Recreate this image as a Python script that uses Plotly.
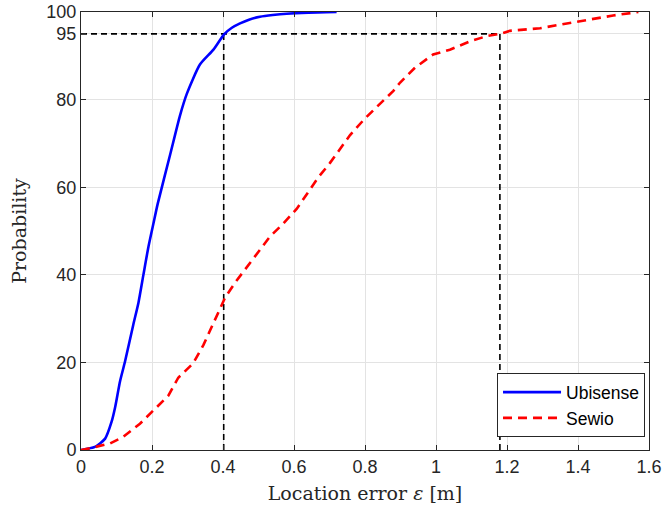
import plotly.graph_objects as go

# Ubisense CDF (location error in m, probability in %)
ubi_x = [0.0, 0.039, 0.068, 0.086, 0.096, 0.110, 0.124, 0.147, 0.162, 0.176, 0.190, 0.204, 0.216,
         0.251, 0.279, 0.298, 0.335, 0.373, 0.403, 0.425, 0.448, 0.475, 0.504, 0.540, 0.579, 0.64, 0.72]
ubi_y = [0.0, 0.7, 2.6, 6.4, 9.7, 15.7, 20.2, 28.5, 33.7, 40.1, 46.4, 51.7, 56.2,
         67.4, 76.4, 81.3, 88.0, 91.4, 94.9, 96.4, 97.4, 98.3, 98.9, 99.3, 99.6, 99.85, 100.0]

# Sewio CDF
sew_x = [0.0, 0.025, 0.082, 0.119, 0.166, 0.204, 0.246, 0.274, 0.316, 0.345, 0.382, 0.406, 0.434,
         0.476, 0.532, 0.570, 0.608, 0.636, 0.668, 0.701, 0.730, 0.758, 0.800, 0.833, 0.880,
         0.899, 0.941, 0.992, 1.039, 1.096, 1.143, 1.180, 1.208, 1.293, 1.377, 1.434, 1.499, 1.570]
sew_y = [0.0, 0.4, 1.5, 3.0, 6.0, 9.0, 12.4, 16.5, 19.8, 24.0, 30.7, 34.8, 38.2,
         42.7, 48.7, 51.7, 55.1, 58.4, 62.2, 65.5, 68.9, 71.9, 75.7, 78.3, 82.0,
         83.9, 87.3, 90.3, 91.4, 93.3, 94.5, 95.0, 95.7, 96.3, 97.4, 98.3, 99.2, 100.0]

# 95th percentile markers
p95_level = 95
p95_ubi = 0.402
p95_sew = 1.18

x_ticks = [0, 0.2, 0.4, 0.6, 0.8, 1.0, 1.2, 1.4, 1.6]
x_labels = ["0", "0.2", "0.4", "0.6", "0.8", "1", "1.2", "1.4", "1.6"]
y_ticks = [0, 20, 40, 60, 80, 95, 100]

fig = go.Figure()

guide = dict(color="black", width=1.6, dash="6px,4px")
fig.add_trace(go.Scatter(x=[0, p95_sew], y=[p95_level, p95_level], mode="lines",
                         line=guide, showlegend=False, hoverinfo="skip"))
fig.add_trace(go.Scatter(x=[p95_ubi, p95_ubi], y=[0, p95_level], mode="lines",
                         line=guide, showlegend=False, hoverinfo="skip"))
fig.add_trace(go.Scatter(x=[p95_sew, p95_sew], y=[0, p95_level], mode="lines",
                         line=guide, showlegend=False, hoverinfo="skip"))

fig.add_trace(go.Scatter(x=ubi_x, y=ubi_y, mode="lines", name="Ubisense",
                         line=dict(color="#0000ff", width=2.6, shape="spline", smoothing=0.6)))
fig.add_trace(go.Scatter(x=sew_x, y=sew_y, mode="lines", name="Sewio",
                         line=dict(color="#ff0000", width=2.6, dash="9px,6px")))

axis_common = dict(showline=True, linecolor="#262626", linewidth=1, mirror="ticks",
                   ticks="inside", ticklen=5, tickcolor="#262626",
                   showgrid=True, gridcolor="#e3e3e3", gridwidth=1, zeroline=False,
                   ticklabeloverflow="allow", automargin=False,
                   tickfont=dict(family="Liberation Sans, Arial", size=18, color="#262626"))

title_font = dict(family="DejaVu Serif, serif", size=19, color="#262626")

fig.update_xaxes(range=[0, 1.6], tickvals=x_ticks, ticktext=x_labels,
                 title=dict(text="Location error <i>ε</i> [m]", standoff=11, font=title_font),
                 **axis_common)
fig.update_yaxes(range=[0, 100], tickvals=y_ticks,
                 title=dict(text="Probability", standoff=14, font=title_font),
                 **axis_common)

fig.update_layout(
    width=665, height=513,
    margin=dict(l=81, r=16, t=12, b=63),
    plot_bgcolor="white", paper_bgcolor="white",
    legend=dict(x=0.993, y=0.029, xanchor="right", yanchor="bottom",
                bgcolor="white", bordercolor="#262626", borderwidth=1,
                font=dict(family="Liberation Sans, Arial", size=17.5, color="black"),
                tracegroupgap=0, itemwidth=58),
)

fig.write_html("out.html")
